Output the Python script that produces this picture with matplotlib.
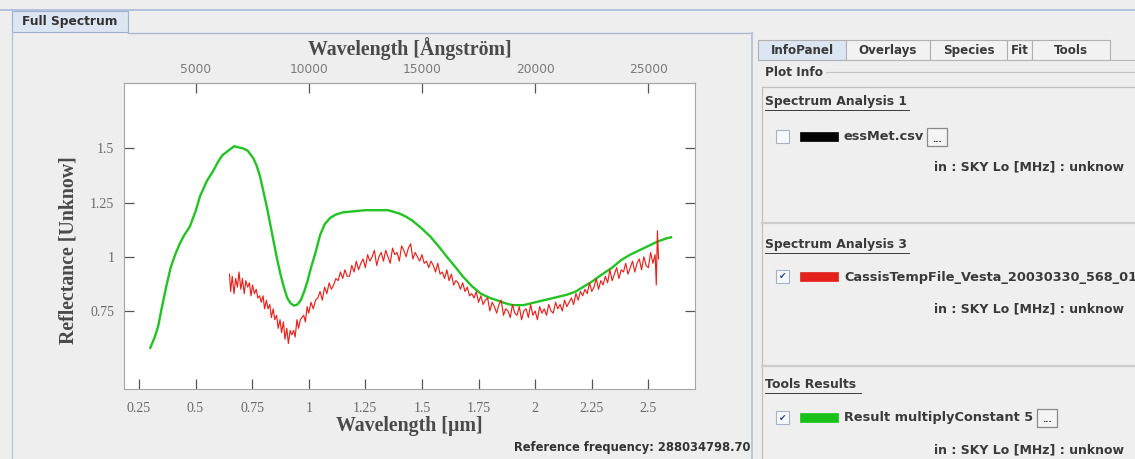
import matplotlib.pyplot as plt
from matplotlib.patches import Rectangle
from matplotlib.lines import Line2D

W, H = 1135, 459

# --- data ---
green_wl = [0.30, 0.32, 0.335, 0.35, 0.37, 0.39, 0.41, 0.43, 0.45, 0.475,
            0.50, 0.52, 0.55, 0.58, 0.60, 0.62, 0.645, 0.67, 0.69, 0.71,
            0.73, 0.755, 0.77, 0.785, 0.80, 0.815, 0.83, 0.845, 0.86, 0.875,
            0.89, 0.905, 0.92, 0.935, 0.95, 0.965, 0.98, 0.995, 1.01, 1.03,
            1.05, 1.07, 1.095, 1.12, 1.15, 1.20, 1.25, 1.30, 1.35, 1.40,
            1.43, 1.46, 1.50, 1.54, 1.58, 1.61, 1.65, 1.68, 1.72, 1.76,
            1.80, 1.83, 1.87, 1.90, 1.95, 1.98, 2.02, 2.06, 2.10, 2.14,
            2.18, 2.21, 2.25, 2.29, 2.34, 2.38, 2.42, 2.46, 2.50, 2.54,
            2.58, 2.60]
green_refl = [0.58, 0.63, 0.68, 0.76, 0.86, 0.95, 1.01, 1.06, 1.10, 1.14,
              1.21, 1.28, 1.35, 1.40, 1.44, 1.47, 1.49, 1.51, 1.505, 1.50,
              1.49, 1.455, 1.42, 1.37, 1.30, 1.23, 1.15, 1.07, 0.99, 0.92,
              0.86, 0.81, 0.785, 0.775, 0.78, 0.80, 0.84, 0.89, 0.95, 1.02,
              1.10, 1.15, 1.18, 1.195, 1.205, 1.21, 1.215, 1.215, 1.215, 1.20,
              1.185, 1.165, 1.13, 1.09, 1.04, 1.00, 0.95, 0.91, 0.865, 0.83,
              0.81, 0.80, 0.785, 0.777, 0.777, 0.785, 0.795, 0.805, 0.815, 0.825,
              0.84, 0.86, 0.885, 0.915, 0.95, 0.985, 1.01, 1.03, 1.05, 1.07,
              1.085, 1.09]

red_wl = [0.650, 0.655, 0.662, 0.670, 0.677, 0.685, 0.692, 0.700, 0.707, 0.715,
          0.722, 0.730, 0.738, 0.745, 0.752, 0.760, 0.768, 0.775, 0.783, 0.790,
          0.798, 0.805, 0.813, 0.820, 0.828, 0.835, 0.843, 0.850, 0.858, 0.865,
          0.873, 0.880, 0.888, 0.895, 0.903, 0.910, 0.918, 0.925, 0.933, 0.940,
          0.948, 0.955, 0.963, 0.970, 0.978, 0.985, 0.993, 1.000, 1.010, 1.020,
          1.030, 1.040, 1.050, 1.060, 1.070, 1.080, 1.090, 1.100, 1.110, 1.120,
          1.130, 1.140, 1.150, 1.160, 1.170, 1.180, 1.190, 1.200, 1.210, 1.220,
          1.230, 1.240, 1.250, 1.260, 1.270, 1.280, 1.290, 1.300, 1.310, 1.320,
          1.330, 1.340, 1.350, 1.360, 1.370, 1.380, 1.390, 1.400, 1.410, 1.420,
          1.430, 1.440, 1.450, 1.460, 1.470, 1.480, 1.490, 1.500, 1.510, 1.520,
          1.530, 1.540, 1.550, 1.560, 1.570, 1.580, 1.590, 1.600, 1.610, 1.620,
          1.630, 1.640, 1.650, 1.660, 1.670, 1.680, 1.690, 1.700, 1.710, 1.720,
          1.730, 1.740, 1.750, 1.760, 1.770, 1.780, 1.790, 1.800, 1.810, 1.820,
          1.830, 1.840, 1.850, 1.860, 1.870, 1.880, 1.890, 1.900, 1.910, 1.920,
          1.930, 1.940, 1.950, 1.960, 1.970, 1.980, 1.990, 2.000, 2.010, 2.020,
          2.030, 2.040, 2.050, 2.060, 2.070, 2.080, 2.090, 2.100, 2.110, 2.120,
          2.130, 2.140, 2.150, 2.160, 2.170, 2.180, 2.190, 2.200, 2.210, 2.220,
          2.230, 2.240, 2.250, 2.260, 2.270, 2.280, 2.290, 2.300, 2.310, 2.320,
          2.330, 2.340, 2.350, 2.360, 2.370, 2.380, 2.390, 2.400, 2.410, 2.420,
          2.430, 2.440, 2.450, 2.460, 2.470, 2.480, 2.490, 2.500, 2.510, 2.520,
          2.530, 2.535, 2.540, 2.545]
red_refl = [0.92, 0.84, 0.91, 0.83, 0.90, 0.86, 0.93, 0.85, 0.90, 0.83,
            0.89, 0.86, 0.88, 0.82,
            0.87, 0.83, 0.85, 0.81, 0.82, 0.79, 0.82, 0.76, 0.80, 0.76,
            0.78, 0.72, 0.76, 0.71, 0.73, 0.67,
            0.71, 0.65, 0.70, 0.62, 0.67, 0.60, 0.66, 0.64, 0.66, 0.63,
            0.71, 0.67, 0.71, 0.72, 0.73, 0.70, 0.77, 0.74, 0.79, 0.76,
            0.80, 0.81, 0.84, 0.80, 0.86, 0.83, 0.88, 0.85, 0.87, 0.90,
            0.89, 0.93, 0.90, 0.94, 0.91, 0.91, 0.96, 0.93, 0.98, 0.94,
            0.97, 0.99, 0.95, 1.01, 0.98, 1.00, 1.03, 0.96, 1.00, 1.02,
            0.98, 1.03, 1.00, 0.97, 1.04, 1.01, 1.02, 0.98, 1.05, 1.03,
            1.00, 1.04, 1.06, 0.99, 1.02, 1.00, 0.98, 1.01, 0.97, 0.98,
            0.95, 0.98, 0.96, 0.93, 0.97, 0.92, 0.93, 0.90, 0.94, 0.89,
            0.92, 0.87, 0.89, 0.88, 0.85, 0.88, 0.84, 0.86, 0.82, 0.83,
            0.81, 0.84, 0.79, 0.82, 0.78, 0.80, 0.81, 0.75, 0.79, 0.77,
            0.74, 0.78, 0.80, 0.73, 0.76, 0.75, 0.72, 0.78, 0.74, 0.73,
            0.77, 0.71, 0.75, 0.76, 0.72, 0.78, 0.73, 0.75, 0.71, 0.77,
            0.74, 0.76, 0.73, 0.78, 0.75, 0.74, 0.79, 0.76, 0.78, 0.75,
            0.80, 0.77, 0.79, 0.81, 0.78, 0.83, 0.80, 0.84, 0.82, 0.85,
            0.83, 0.88, 0.84, 0.86, 0.90, 0.85, 0.89, 0.87, 0.91, 0.88,
            0.94, 0.89, 0.92, 0.95, 0.90, 0.94, 0.93, 0.97, 0.92, 0.95,
            0.98, 0.93, 0.97, 0.99, 0.94, 1.00, 0.96, 0.95, 1.02, 0.97,
            1.01, 0.87, 1.12, 0.99]

x_ticks = [0.25, 0.5, 0.75, 1, 1.25, 1.5, 1.75, 2, 2.25, 2.5]
x_tick_labels = ['0.25', '0.5', '0.75', '1', '1.25', '1.5', '1.75', '2', '2.25', '2.5']
y_ticks = [0.75, 1, 1.25, 1.5]
y_tick_labels = ['0.75', '1', '1.25', '1.5']
top_ticks = [5000, 10000, 15000, 20000, 25000]
top_tick_labels = ['5000', '10000', '15000', '20000', '25000']

SERIF = 'Liberation Serif'
GUI_FONT = 'DejaVu Sans'

fig = plt.figure(figsize=(W / 100, H / 100), dpi=100, facecolor='#eeeeee')


def fx(px):
    return px / W


def fy(py):
    return 1 - py / H


def box(x0, y0, x1, y1, fc='none', ec='#b5b5b5', lw=0.8):
    fig.add_artist(Rectangle((fx(x0), fy(y1)), fx(x1) - fx(x0), fy(y0) - fy(y1),
                             transform=fig.transFigure, facecolor=fc,
                             edgecolor=ec, linewidth=lw))


def hline(x0, x1, y, color='#c8c8c8', lw=1.0):
    fig.add_artist(Line2D([fx(x0), fx(x1)], [fy(y), fy(y)],
                          transform=fig.transFigure, color=color, linewidth=lw))


def vline(x, y0, y1, color='#c8c8c8', lw=1.0):
    fig.add_artist(Line2D([fx(x), fx(x)], [fy(y0), fy(y1)],
                          transform=fig.transFigure, color=color, linewidth=lw))


def label(x, y, s, size=8, color='#3a3a3a', ha='left', weight='bold'):
    fig.text(fx(x), fy(y), s, ha=ha, va='center', fontsize=size, color=color,
             fontfamily=GUI_FONT, fontweight=weight)


# --- plot area ---
ax = fig.add_axes([fx(124), fy(389), fx(695) - fx(124), fy(83) - fy(389)])
ax.plot(green_wl, green_refl, color='#22c322', linewidth=1.7)
ax.plot(red_wl, red_refl, color='#e8231c', linewidth=0.85)
ax.set_xlim(0.184, 2.706)
ax.set_ylim(0.39, 1.802)

ax.set_xticks(x_ticks, x_tick_labels, fontfamily=SERIF, fontsize=10, color='#6a6a6a')
ax.set_yticks(y_ticks, y_tick_labels, fontfamily=SERIF, fontsize=10, color='#6a6a6a')
ax.tick_params(direction='in', length=7, width=0.9, color='#555555', right=True)
ax.tick_params(axis='x', pad=9)
ax.tick_params(axis='y', pad=7)
for s in ax.spines.values():
    s.set_color('#a5a5a5')
ax.set_xlabel('Wavelength [µm]', fontfamily=SERIF, fontsize=14.3, fontweight='bold',
              color='#4a4a4a', labelpad=1)
ax.set_ylabel('Reflectance [Unknow]', fontfamily=SERIF, fontsize=14.3, fontweight='bold',
              color='#4a4a4a')
ax.yaxis.set_label_coords(-0.080, 0.455)

top = ax.secondary_xaxis('top', functions=(lambda w: w * 1e4, lambda a: a / 1e4))
top.set_xticks(top_ticks, top_tick_labels, fontfamily=GUI_FONT, fontsize=8.8, color='#7a7a7a')
top.tick_params(direction='in', length=7, width=0.9, color='#555555', pad=5)
top.spines['top'].set_color('#a5a5a5')
top.set_xlabel('Wavelength [Ångström]', fontfamily=SERIF, fontsize=14.3, fontweight='bold',
               color='#4a4a4a', labelpad=6)

# --- window chrome: left panel ---
hline(0, W, 9.5, color='#a9b9d6', lw=1.2)
box(12, 11, 128, 32, fc='#dce5f2', ec='#9fb0cc', lw=0.8)
label(70, 22, 'Full Spectrum', size=8.8, color='#333333', ha='center')
hline(128, 752, 32.5, color='#a9b9d6', lw=1.0)
vline(12, 32, H, color='#b9c4d8', lw=1.0)
label(750, 447, 'Reference frequency: 288034798.70', size=8.3, color='#333333', ha='right')

# --- right panel ---
vline(752, 33, H, color='#b9c4d8', lw=1.4)
tabs = [('InfoPanel', 758, 846), ('Overlays', 846, 930), ('Species', 930, 1007),
        ('Fit', 1007, 1032), ('Tools', 1032, 1110)]
for i, (name, x0, x1) in enumerate(tabs):
    box(x0, 40, x1, 60, fc='#dce5f2' if i == 0 else '#f2f2f2', ec='#b0b0b0', lw=0.8)
    label((x0 + x1) / 2, 50.5, name, size=8.6, color='#3a3a3a', ha='center')
hline(846, W, 60, color='#b8b8b8', lw=0.8)
label(765, 73, 'Plot Info', size=8.7, color='#3a3a3a')
hline(826, W, 72, color='#c4c4c4', lw=0.8)
box(762, 87, W + 5, H + 5, fc='#efefef', ec='#c0c0c0', lw=0.9)
hline(762, W, 223, color='#cccccc', lw=1.6)
hline(762, W, 366, color='#cccccc', lw=1.6)

sections = [('Spectrum Analysis 1', 102, 909), ('Spectrum Analysis 3', 245, 909),
            ('Tools Results', 385, 861)]
for title, ty, x_end in sections:
    label(765, ty, title, size=8.9, color='#3a3a3a')
    hline(765, x_end, ty + 7.5, color='#3a3a3a', lw=0.7)

rows = [(137, '#000000', 'essMet.csv', False, 927, 167),
        (277, '#e3201b', 'CassisTempFile_Vesta_20030330_568_01', True, None, 309),
        (418, '#19c219', 'Result multiplyConstant 5', True, 1037, 450)]
for ry, swatch, name, checked, btn_x, info_y in rows:
    box(776, ry - 7, 789, ry + 6, fc='#f6f8fb', ec='#a8b2c2', lw=0.8)
    if checked:
        fig.text(fx(782.5), fy(ry), '✔', ha='center', va='center', fontsize=6.5,
                 color='#2f4b7c', fontfamily='DejaVu Sans')
    box(800, ry - 5, 838, ry + 4, fc=swatch, ec=swatch, lw=0.5)
    label(844, ry, name, size=9.3, color='#3a3a3a')
    if btn_x is not None:
        box(btn_x, ry - 9, btn_x + 20, ry + 9, fc='#f4f4f4', ec='#8a8a8a', lw=0.9)
        label(btn_x + 10, ry + 2, '...', size=6, color='#333333', ha='center')
    label(1124, info_y, 'in : SKY Lo [MHz] : unknow', size=9, color='#3a3a3a', ha='right')

fig.savefig('out.png', dpi=100, facecolor=fig.get_facecolor())
